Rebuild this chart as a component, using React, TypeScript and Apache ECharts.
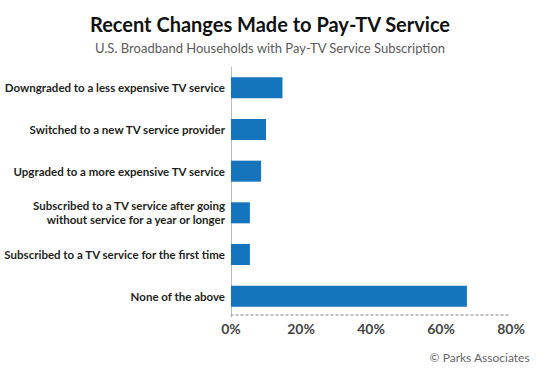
import React, { useEffect, useRef } from "react";
import * as echarts from "echarts";

const categories = [
  "Downgraded to a less expensive TV service",
  "Switched to a new TV service provider",
  "Upgraded to a more expensive TV service",
  "Subscribed to a TV service after going\nwithout service for a year or longer",
  "Subscribed to a TV service for the first time",
  "None of the above",
];
const values = [14.7, 10, 8.6, 5.4, 5.4, 67.4];
const xTicks = [0, 20, 40, 60, 80];

const TITLE = "Recent Changes Made to Pay-TV Service";
const SUBTITLE = "U.S. Broadband Households with Pay-TV Service Subscription";
const SOURCE = "© Parks Associates";

export default function App() {
  const ref = useRef<HTMLDivElement>(null);
  useEffect(() => {
    const chart = echarts.init(ref.current!, null, { renderer: "svg" });
    chart.setOption({
      animation: false,
      backgroundColor: "#ffffff",
      title: [
        {
          text: TITLE,
          left: "center",
          top: 9,
          textStyle: { fontFamily: "Lato", fontWeight: "bold", fontSize: 20, color: "#111111" },
        },
        {
          text: SUBTITLE,
          left: "center",
          top: 36,
          textStyle: { fontFamily: "Lato", fontWeight: "normal", fontSize: 13, color: "#5a5a5a" },
        },
        {
          text: SOURCE,
          right: 5,
          top: 346,
          textStyle: { fontFamily: "Lato", fontWeight: "normal", fontSize: 12, color: "#666666" },
        },
      ],
      grid: {
        left: 231,
        right: 29,
        top: 67,
        bottom: 53,
        containLabel: false,
        outerBoundsMode: "none",
      },
      xAxis: {
        type: "value",
        min: xTicks[0],
        max: xTicks[xTicks.length - 1],
        interval: 20,
        offset: -2,
        axisLine: { show: true, lineStyle: { color: "#aaaaaa", type: [2, 3], width: 1.5 } },
        axisTick: { show: false },
        splitLine: { show: false },
        axisLabel: {
          formatter: "{value}%",
          fontFamily: "Lato",
          fontWeight: "bold",
          fontSize: 14,
          color: "#444444",
          margin: 6,
        },
      },
      yAxis: {
        type: "category",
        data: categories,
        inverse: true,
        axisLine: { show: true, lineStyle: { color: "#bbbbbb", width: 1 } },
        axisTick: { show: false },
        axisLabel: {
          fontFamily: "Lato",
          fontWeight: "bold",
          fontSize: 11.5,
          lineHeight: 14,
          color: "#231f20",
          margin: 6,
          align: "right",
        },
      },
      series: [
        {
          type: "bar",
          data: values,
          barWidth: 21,
          itemStyle: { color: "#1674bc" },
        },
      ],
    });
    return () => chart.dispose();
  }, []);
  return <div ref={ref} style={{ width: 540, height: 370, position: "absolute", left: 0, top: 0 }} />;
}
